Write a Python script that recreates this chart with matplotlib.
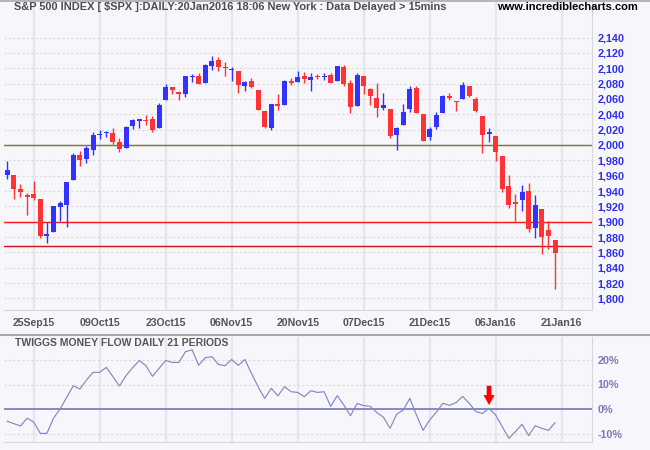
import matplotlib
matplotlib.use('Agg')
import matplotlib.pyplot as plt
import numpy as np
import pandas as pd
from matplotlib.lines import Line2D

# ---------------- data ----------------
holidays = ['2015-11-26', '2015-12-25', '2016-01-01', '2016-01-18']
first_day = '2015-09-21'
last_day = '2016-01-20'

opens = [1960.84, 1961.39, 1943.24, 1934.81, 1935.93, 1929.18, 1881.90, 1887.14, 1919.65, 1921.77,
         1954.33, 1986.63, 1982.34, 1994.01, 2013.73, 2015.65, 2015.00, 2003.66, 1996.47, 2024.37,
         2031.73, 2033.13, 2033.47, 2021.88, 2058.19, 2075.08, 2068.75, 2066.48, 2088.35, 2090.00,
         2080.76, 2102.63, 2110.60, 2101.68, 2098.60, 2096.56, 2077.19, 2083.41, 2072.29, 2044.64,
         2022.08, 2053.67, 2051.99, 2083.70, 2082.82, 2089.41, 2084.42, 2089.30, 2088.82, 2090.95,
         2082.93, 2101.71, 2080.71, 2051.24, 2090.42, 2073.39, 2061.17, 2047.93, 2047.27, 2013.37,
         2025.55, 2046.50, 2073.76, 2040.81, 2010.27, 2023.15, 2042.20, 2063.52, 2057.77, 2060.54,
         2077.34, 2060.59, 2038.20, 2013.78, 2011.71, 1985.32, 1945.97, 1926.12, 1927.83, 1940.34,
         1891.68, 1916.68, 1888.66, 1876.18]
highs = [1979.64, 1961.39, 1949.52, 1937.17, 1952.89, 1929.18, 1899.48, 1920.53, 1927.21, 1951.36,
         1989.17, 1991.62, 1999.31, 2016.50, 2020.13, 2018.66, 2022.34, 2009.56, 2024.15, 2033.54,
         2034.45, 2039.12, 2037.97, 2055.20, 2079.74, 2075.14, 2070.37, 2090.35, 2092.52, 2094.32,
         2106.20, 2116.48, 2114.59, 2108.78, 2101.91, 2096.56, 2083.67, 2086.94, 2072.29, 2044.64,
         2053.22, 2066.69, 2085.31, 2086.74, 2097.06, 2095.61, 2094.12, 2093.00, 2093.29, 2093.81,
         2103.37, 2104.27, 2085.00, 2093.84, 2090.42, 2073.85, 2080.33, 2067.65, 2047.27, 2022.92,
         2053.87, 2076.72, 2076.37, 2040.81, 2022.90, 2042.74, 2064.73, 2067.36, 2057.77, 2081.56,
         2077.34, 2062.54, 2038.20, 2021.94, 2011.71, 1985.32, 1960.40, 1935.65, 1947.38, 1950.33,
         1934.47, 1916.68, 1901.44, 1876.18]
lows = [1955.80, 1929.22, 1932.57, 1908.92, 1928.08, 1879.21, 1871.91, 1887.14, 1900.70, 1893.70,
        1954.33, 1971.99, 1976.44, 1987.53, 2007.61, 2010.55, 2001.78, 1990.73, 1996.47, 2020.46,
        2022.31, 2026.61, 2017.22, 2021.88, 2058.19, 2066.53, 2058.84, 2063.11, 2082.63, 2079.34,
        2080.76, 2097.51, 2096.98, 2090.41, 2083.74, 2068.24, 2069.91, 2074.85, 2045.66, 2022.02,
        2019.94, 2045.90, 2051.99, 2078.76, 2082.82, 2081.39, 2070.29, 2086.30, 2084.13, 2080.41,
        2082.93, 2077.11, 2042.35, 2051.24, 2066.78, 2052.32, 2036.53, 2045.67, 2008.80, 1993.26,
        2025.55, 2042.43, 2041.66, 2005.33, 2005.93, 2020.49, 2042.20, 2058.73, 2044.20, 2060.54,
        2061.97, 2043.62, 1989.68, 2004.17, 1979.05, 1938.83, 1918.46, 1901.10, 1914.35, 1886.41,
        1878.93, 1857.83, 1864.60, 1812.29]
closes = [1966.97, 1942.74, 1938.76, 1932.24, 1931.34, 1881.77, 1884.09, 1920.03, 1923.82, 1951.36,
          1987.05, 1979.92, 1995.83, 2013.43, 2014.89, 2017.46, 2003.69, 1994.24, 2023.86, 2033.11,
          2033.66, 2030.77, 2018.94, 2052.51, 2075.15, 2071.18, 2065.89, 2090.35, 2089.41, 2079.36,
          2104.05, 2109.79, 2102.31, 2099.93, 2099.20, 2078.58, 2081.72, 2075.00, 2045.97, 2023.04,
          2053.19, 2050.44, 2083.58, 2081.24, 2089.17, 2086.59, 2089.14, 2088.87, 2090.11, 2080.41,
          2102.63, 2079.51, 2049.62, 2091.69, 2077.07, 2063.59, 2047.62, 2052.23, 2012.37, 2021.94,
          2043.41, 2073.07, 2041.89, 2005.55, 2021.15, 2038.97, 2064.29, 2060.99, 2056.50, 2078.36,
          2063.36, 2043.94, 2012.66, 2016.71, 1990.26, 1943.09, 1922.03, 1923.67, 1938.68, 1890.28,
          1921.84, 1880.33, 1881.33, 1859.33]

money_flow = [-4.8, -5.8, -6.7, -3.6, -5.2, -9.7, -9.7, -3.6, 0.1, 4.8,
              9.5, 8.2, 11.8, 14.9, 14.9, 16.9, 13.2, 9.4, 13.6, 16.8,
              19.7, 17.6, 13.3, 16.5, 19.7, 18.9, 18.9, 23.2, 24.0, 17.8,
              20.8, 21.2, 18.1, 17.6, 20.1, 17.7, 20.1, 14.5, 9.1, 4.4,
              8.5, 5.4, 9.1, 7.1, 6.8, 5.1, 7.5, 6.8, 7.1, 1.2,
              5.5, 1.7, -2.6, 2.3, 1.5, 1.2, -1.3, -3.2, -7.7, -2.0,
              -0.3, 4.4, -2.3, -8.5, -4.3, -1.2, 2.4, 1.6, 2.7, 5.2,
              2.4, -0.9, -1.7, 0.4, -2.3, -7.0, -11.7, -9.0, -6.0, -10.6,
              -6.6, -7.7, -8.5, -5.4]

tick_dates = ['2015-09-25', '2015-10-09', '2015-10-23', '2015-11-06', '2015-11-20',
              '2015-12-07', '2015-12-21', '2016-01-06', '2016-01-21']
tick_labels = ['25Sep15', '09Oct15', '23Oct15', '06Nov15', '20Nov15',
               '07Dec15', '21Dec15', '06Jan16', '21Jan16']

price_ticks = list(range(1800, 2141, 20))
ref_levels = [2000, 1900, 1868]
ref_colors = ['#7a7a40', '#ff1a1a', '#d01818']
mf_ticks = [20, 10, 0, -10]
arrow_day = '2016-01-05'
arrow_from, arrow_to = 9.5, 1.7

title = 'S&P 500 INDEX [ $SPX ]:DAILY:20Jan2016 18:06 New York : Data Delayed > 15mins'
site = 'www.incrediblecharts.com'
mf_title = 'TWIGGS MONEY FLOW DAILY 21 PERIODS'

# ---------------- derived ----------------
opens = np.array(opens); highs = np.array(highs)
lows = np.array(lows); closes = np.array(closes)
n = len(opens)
x = np.arange(n)
tick_pos = [int(np.busday_count(first_day, d, holidays=holidays)) for d in tick_dates]
arrow_x = int(np.busday_count(first_day, arrow_day, holidays=holidays))

BLUE = '#3333ff'
RED = '#ff3333'
BG = '#f7f7fb'
FONT = 'Liberation Sans'
plt.rcParams['font.family'] = [FONT, 'DejaVu Sans']

W, H = 650, 450
fig = plt.figure(figsize=(6.5, 4.5), dpi=100, facecolor=BG)

def fx(px):
    return px / W

def fy(py):
    return 1 - py / H

left_px, right_px = 4, 592
p_top, p_bot = 2, 310
m_top, m_bot = 337, 442.3

axp = fig.add_axes([fx(left_px), fy(p_bot), fx(right_px - left_px), (p_bot - p_top) / H])
axm = fig.add_axes([fx(left_px), fy(m_bot), fx(right_px - left_px), (m_bot - m_top) / H], sharex=axp)

for ax in (axp, axm):
    ax.set_facecolor(BG)
    for s in ax.spines.values():
        s.set_color('#d6d6dc')
        s.set_linewidth(0.8)
    ax.spines['left'].set_visible(False)
    ax.spines['top'].set_visible(False)
    ax.yaxis.tick_right()
    ax.tick_params(length=0)
    for tp in tick_pos:
        ax.axvline(tp, color='#e6e6ea', lw=1.6, zorder=0)

# price panel
axp.set_xlim(-0.5, 88.6)
px_per_pt = 0.7667
axp.set_ylim(2000 - (p_bot - 145) / px_per_pt, 2000 + (145 - p_top) / px_per_pt)
for t in price_ticks:
    axp.axhline(t, color='#d9d9de', lw=0.8, ls=(0, (2, 2)), zorder=0.5)
for lvl, c in zip(ref_levels, ref_colors):
    axp.axhline(lvl, color=c, lw=1.05, zorder=1)

up = closes >= opens
cols = np.where(up, BLUE, RED)
axp.vlines(x, lows, highs, colors=cols, lw=1.0, zorder=2)
body_lo = np.minimum(opens, closes)
body_h = np.abs(closes - opens)
min_h = 1.3
small = body_h < min_h
body_lo = np.where(small, (opens + closes) / 2 - min_h / 2, body_lo)
body_h = np.where(small, min_h, body_h)
axp.bar(x, body_h, bottom=body_lo, width=0.76, color=cols, linewidth=0, zorder=3)

axp.set_yticks(price_ticks)
axp.set_yticklabels([f'{t:,}' for t in price_ticks])
axp.tick_params(axis='y', pad=3.8, labelsize=7.8, labelcolor='#2f2ff0')
for lab in axp.get_yticklabels():
    lab.set_fontweight('bold')
axp.set_xticks(tick_pos)
axp.set_xticklabels(tick_labels)
axp.tick_params(axis='x', pad=5.5, labelsize=7.6, labelcolor='#555555')
for lab in axp.get_xticklabels():
    lab.set_fontweight('bold')

# money flow panel
pct_per_px = 1 / 2.48
axm.set_ylim(-(m_bot - 409.3) * pct_per_px, (409.3 - m_top) * pct_per_px)
for t in mf_ticks:
    if t != 0:
        axm.axhline(t, color='#d9d9de', lw=0.8, ls=(0, (2, 2)), zorder=0.5)
axm.axhline(0, color='#6b6bb0', lw=1.1, zorder=1)
axm.plot(x, money_flow, color='#8686c6', lw=0.85, zorder=2)
axm.set_yticks(mf_ticks)
axm.set_yticklabels([f'{t}%' for t in mf_ticks])
axm.tick_params(axis='y', pad=3.8, labelsize=7.8, labelcolor='#7b7bb8')
for lab in axm.get_yticklabels():
    lab.set_fontweight('bold')
axm.tick_params(axis='x', labelbottom=False)
axm.annotate('', xy=(arrow_x, arrow_to), xytext=(arrow_x, arrow_from),
             arrowprops=dict(arrowstyle='simple,head_length=0.72,head_width=0.8,tail_width=0.34',
                             mutation_scale=10, color='#ff0000', lw=0, shrinkA=0, shrinkB=0),
             zorder=5)

# texts and separators
fig.text(fx(14), fy(7.5), title, ha='left', va='center', fontsize=7.95,
         fontweight='bold', color='#4d4d4d')
fig.text(fx(638), fy(7.5), site, ha='right', va='center', fontsize=8,
         fontweight='bold', color='#000000')
fig.text(fx(15), fy(343), mf_title, ha='left', va='center', fontsize=7.5,
         fontweight='bold', color='#555555')
fig.add_artist(Line2D([0, 1], [fy(335), fy(335)], color='#a8a8ae', lw=1.5))
fig.add_artist(Line2D([0, 1], [fy(0.5), fy(0.5)], color='#a8a8ae', lw=1.2))

fig.savefig('out.png', dpi=100, facecolor=BG)
